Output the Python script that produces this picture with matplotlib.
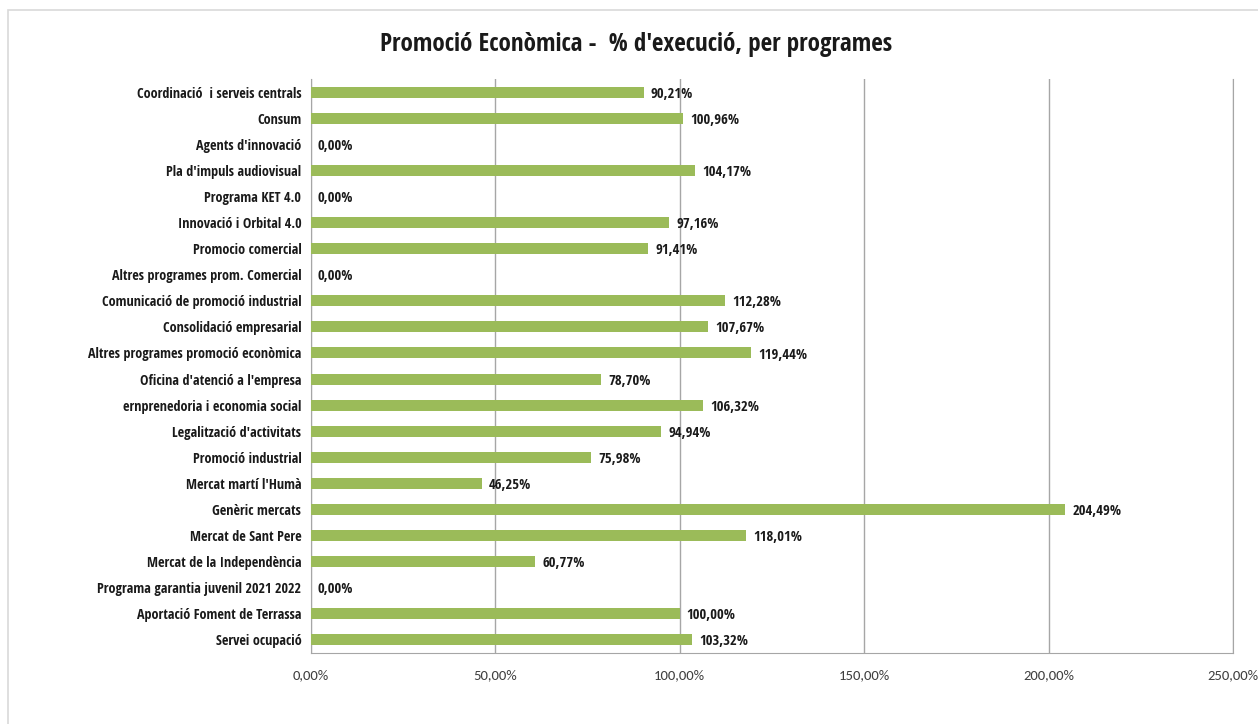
import matplotlib.pyplot as plt
from matplotlib.patches import Rectangle
from matplotlib.ticker import FuncFormatter

programes = [
    "Coordinació  i serveis centrals",
    "Consum",
    "Agents d'innovació",
    "Pla d'impuls audiovisual",
    "Programa KET 4.0",
    "Innovació i Orbital 4.0",
    "Promocio comercial",
    "Altres programes prom. Comercial",
    "Comunicació de promoció industrial",
    "Consolidació empresarial",
    "Altres programes promoció econòmica",
    "Oficina d'atenció a l'empresa",
    "ernprenedoria i economia social",
    "Legalització d'activitats",
    "Promoció industrial",
    "Mercat martí l'Humà",
    "Genèric mercats",
    "Mercat de Sant Pere",
    "Mercat de la Independència",
    "Programa garantia juvenil 2021 2022",
    "Aportació Foment de Terrassa",
    "Servei ocupació",
]
execucio = [90.21, 100.96, 0.00, 104.17, 0.00, 97.16, 91.41, 0.00, 112.28, 107.67,
            119.44, 78.70, 106.32, 94.94, 75.98, 46.25, 204.49, 118.01, 60.77,
            0.00, 100.00, 103.32]
xTicks = [0, 50, 100, 150, 200, 250]

boldFont = ["Open Sans Condensed", "DejaVu Sans"]
tickFont = ["Carlito", "DejaVu Sans"]
plt.rcParams["font.family"] = boldFont


def pct(v):
    return f"{v:.2f}".replace(".", ",") + "%"


fig = plt.figure(figsize=(12.58, 7.24), dpi=100)
ax = fig.add_axes([0.2472, 0.0981, 0.7329, 0.7928])

# outer chart border (Excel chart area)
fig.patches.append(Rectangle((8 / 1258, -0.1), 1.2, 1 - 10 / 724 + 0.1,
                             transform=fig.transFigure, fill=False,
                             edgecolor="#d9d9d9", linewidth=1.2))

yPos = list(range(len(programes)))
ax.barh(yPos, execucio, height=0.42, color="#9bbb59", zorder=3)

for y, v in zip(yPos, execucio):
    ax.text(v + 1.9, y + 0.06, pct(v), va="center", ha="left", fontsize=10.5,
            fontweight="bold", family=boldFont, color="#1a1a1a", zorder=4)

ax.set_ylim(len(programes) - 0.5, -0.5)
ax.set_yticks(yPos)
ax.set_yticklabels(programes, fontsize=10.2, fontweight="bold", color="#1a1a1a")
ax.set_xlim(0, 250)
ax.set_xticks(xTicks)
ax.xaxis.set_major_formatter(FuncFormatter(lambda v, p: pct(v)))
ax.tick_params(axis="x", labelsize=10.5, colors="#404040", length=0, pad=12)
ax.tick_params(axis="y", length=0, pad=7)
for lab in ax.get_xticklabels():
    lab.set_family(tickFont)

ax.grid(axis="x", color="#a6a6a6", linewidth=1, zorder=0)
for side in ["left", "bottom", "right"]:
    ax.spines[side].set_color("#a6a6a6")
ax.spines["top"].set_visible(False)

fig.text(0.506, 0.938, "Promoció Econòmica -  % d'execució, per programes",
         ha="center", va="center", fontsize=18, fontweight="bold",
         family=boldFont, color="#1a1a1a")

fig.savefig("out.png", dpi=100)
